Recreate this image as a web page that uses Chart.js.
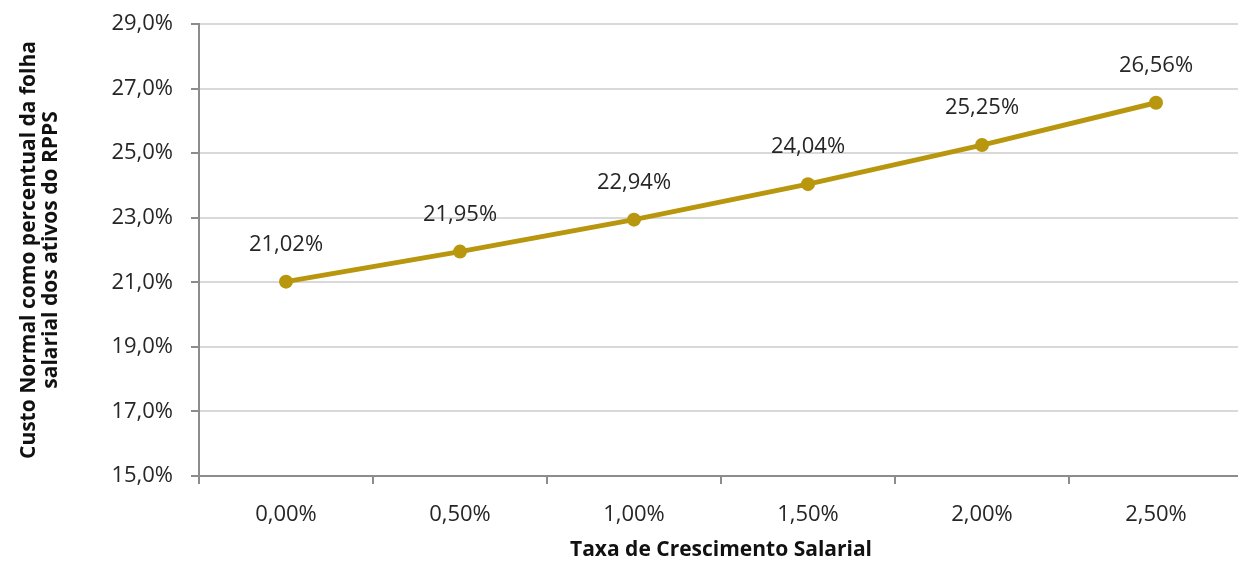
<!DOCTYPE html>
<html>
<head>
<meta charset="utf-8">
<script src="https://cdn.jsdelivr.net/npm/chart.js@4"></script>
<style>
    html, body { margin: 0; padding: 0; background: #fff; overflow: hidden; }
    #wrap { position: relative; width: 1250px; height: 563px; }
</style>
</head>
<body>
<div id="wrap"><canvas id="custoChart"></canvas></div>
<script>
// Custo normal x taxa de crescimento salarial

const categories = ['0,00%', '0,50%', '1,00%', '1,50%', '2,00%', '2,50%'];
const custoNormal = [21.02, 21.95, 22.94, 24.04, 25.25, 26.56];
const yTicks = [15, 17, 19, 21, 23, 25, 27, 29];

const lineColor = '#b8960e';
const textColor = '#262626';
const fontFamily = '"Open Sans", "Noto Sans", sans-serif';

function fmtPct(v, dec) {
    return v.toFixed(dec).replace('.', ',') + '%';
}

// labels above each point
const pointLabels = {
    id: 'pointLabels',
    afterDatasetsDraw(chart) {
        const ctx = chart.ctx;
        const meta = chart.getDatasetMeta(0);
        ctx.save();
        ctx.font = '22px ' + fontFamily;
        ctx.fillStyle = textColor;
        ctx.textAlign = 'center';
        ctx.textBaseline = 'middle';
        meta.data.forEach((pt, i) => {
            ctx.fillText(fmtPct(custoNormal[i], 2), pt.x, pt.y - 37);
        });
        ctx.restore();
    }
};

new Chart(document.getElementById('custoChart'), {
    type: 'line',
    data: {
        labels: categories,
        datasets: [{
            data: custoNormal,
            borderColor: lineColor,
            backgroundColor: lineColor,
            borderWidth: 5,
            pointRadius: 7,
            pointHoverRadius: 7,
            pointBorderWidth: 0,
            tension: 0
        }]
    },
    options: {
        responsive: true,
        maintainAspectRatio: false,
        animation: false,
        layout: { padding: { top: 24, right: 3, left: 0, bottom: 0 } },
        plugins: {
            legend: { display: false },
            tooltip: { enabled: false }
        },
        scales: {
            x: {
                offset: true,
                grid: {
                    offset: true,
                    drawOnChartArea: false,
                    drawTicks: true,
                    tickLength: 8,
                    tickColor: '#8c8c8c',
                    lineWidth: 2
                },
                border: { color: '#8c8c8c', width: 2 },
                ticks: {
                    color: textColor,
                    padding: 18,
                    font: { family: fontFamily, size: 22 }
                },
                title: {
                    display: true,
                    text: 'Taxa de Crescimento Salarial',
                    color: '#111',
                    font: { family: fontFamily, size: 21, weight: 'bold' },
                    padding: { top: 4, bottom: 0 }
                },
                afterFit(scale) {
                    scale.height = 87;
                    scale.paddingLeft = 0;
                    scale.paddingRight = 0;
                }
            },
            y: {
                min: 15,
                max: 29,
                afterBuildTicks(scale) {
                    scale.ticks = yTicks.map(v => ({ value: v }));
                },
                grid: {
                    color: '#d9d9d9',
                    lineWidth: 2,
                    tickLength: 8,
                    tickColor: '#8c8c8c'
                },
                border: { color: '#8c8c8c', width: 2 },
                ticks: {
                    color: textColor,
                    padding: 18,
                    font: { family: fontFamily, size: 22 },
                    callback: v => fmtPct(v, 1)
                },
                title: {
                    display: true,
                    text: ['Custo Normal como percentual da folha', 'salarial dos ativos do RPPS'],
                    color: '#111',
                    font: { family: fontFamily, size: 21, weight: 'bold', lineHeight: 1.05 },
                    padding: { top: 18, bottom: 0 }
                },
                afterFit(scale) {
                    scale.width = 199;
                    scale.paddingTop = 0;
                    scale.paddingBottom = 0;
                }
            }
        }
    },
    plugins: [pointLabels]
});
</script>
</body>
</html>
